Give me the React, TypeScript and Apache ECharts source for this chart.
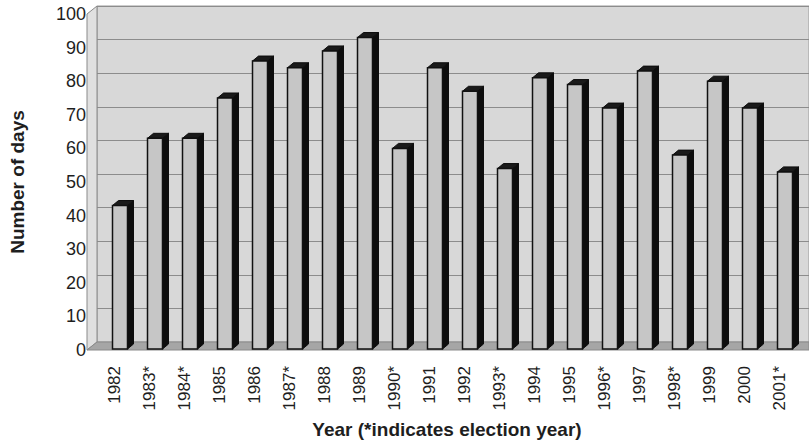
import React, { useEffect, useRef } from "react";
import * as echarts from "echarts";

const years = [
  "1982", "1983*", "1984*", "1985", "1986", "1987*", "1988", "1989", "1990*", "1991",
  "1992", "1993*", "1994", "1995", "1996*", "1997", "1998*", "1999", "2000", "2001*",
];
const days = [43, 63, 63, 75, 86, 84, 89, 93, 60, 84, 77, 54, 81, 79, 72, 83, 58, 80, 72, 53];
const yTicks = [0, 10, 20, 30, 40, 50, 60, 70, 80, 90, 100];

const FONT = "'Liberation Sans', Arial, sans-serif";

export default function App() {
  const ref = useRef<HTMLDivElement>(null);
  useEffect(() => {
    if (!ref.current) return;
    const chart = echarts.init(ref.current, null, { renderer: "svg" });
    const option: any = {
      animation: false,
      backgroundColor: "#ffffff",
      grid: [
        { left: 87, right: 12, top: 14, bottom: 98 },
        { left: 97, right: 0, top: 6, bottom: 106, show: true, backgroundColor: "#d8d8d8", borderColor: "#9a9a9a", borderWidth: 1 },
      ],
      graphic: [
        { type: "polygon", z: 1, shape: { points: [[87, 14], [97, 6], [97, 342], [87, 350]] }, style: { fill: "#e0e0e0", stroke: "#8a8a8a", lineWidth: 1 } },
        { type: "polygon", z: 1, shape: { points: [[87, 350], [97, 342], [809, 342], [809, 350]] }, style: { fill: "#a6a6a6", stroke: "#8a8a8a", lineWidth: 1 } },
      ],
      xAxis: [
        {
          gridIndex: 0,
          type: "category",
          data: years,
          axisLine: { show: false },
          axisTick: { show: false },
          axisLabel: { rotate: 90, margin: 16, fontSize: 17, color: "#1e1e1e", fontFamily: FONT, interval: 0 },
          name: "Year (*indicates election year)",
          nameLocation: "middle",
          nameGap: 70,
          nameTextStyle: { fontSize: 19, fontWeight: "bold", color: "#1e1e1e", fontFamily: FONT },
        },
        { gridIndex: 1, type: "category", data: years, show: false },
      ],
      yAxis: [
        {
          gridIndex: 0,
          type: "value",
          min: 0,
          max: 100,
          interval: 10,
          axisLine: { show: false },
          axisTick: { show: false },
          splitLine: { show: false },
          axisLabel: {
            margin: 11,
            fontSize: 18,
            color: "#1e1e1e",
            fontFamily: FONT,
            formatter: (v: number) => (yTicks.includes(v) ? String(v) : ""),
          },
          name: "Number of days",
          nameLocation: "middle",
          nameGap: 70,
          nameTextStyle: { fontSize: 19, fontWeight: "bold", color: "#1e1e1e", fontFamily: FONT },
        },
        {
          gridIndex: 1,
          type: "value",
          min: 0,
          max: 100,
          interval: 10,
          axisLine: { show: false },
          axisTick: { show: false },
          axisLabel: { show: false },
          splitLine: { show: true, lineStyle: { color: "#8c8c8c", width: 1 } },
        },
      ],
      series: [
        {
          type: "custom",
          xAxisIndex: 0,
          yAxisIndex: 0,
          z: 10,
          data: days.map((v, i) => [i, v]),
          renderItem: (params: any, api: any) => {
            const i = api.value(0);
            const v = api.value(1);
            const top = api.coord([i, v]);
            const base = api.coord([i, 0]);
            const c = top[0];
            const y = top[1];
            const y0 = base[1] - 1;
            const l = c - 2;
            const r = c + 13;
            const dx = 6;
            const dy = 5;
            return {
              type: "group",
              children: [
                {
                  type: "polygon",
                  shape: { points: [[r, y], [r + dx, y - dy], [r + dx, y0 - dy], [r, y0]] },
                  style: { fill: "#0d0d0d", stroke: "#0d0d0d", lineWidth: 1 },
                },
                {
                  type: "polygon",
                  shape: { points: [[l, y], [l + dx, y - dy], [r + dx, y - dy], [r, y]] },
                  style: { fill: "#1a1a1a", stroke: "#0d0d0d", lineWidth: 1 },
                },
                {
                  type: "rect",
                  shape: { x: l, y: y, width: r - l, height: y0 - y },
                  style: { fill: "#c6c6c6", stroke: "#111111", lineWidth: 1.5 },
                },
              ],
            };
          },
        },
      ],
    };
    chart.setOption(option);
    return () => chart.dispose();
  }, []);
  return (
    <div
      ref={ref}
      style={{ position: "fixed", left: 0, top: 0, width: 809, height: 448 }}
    />
  );
}
